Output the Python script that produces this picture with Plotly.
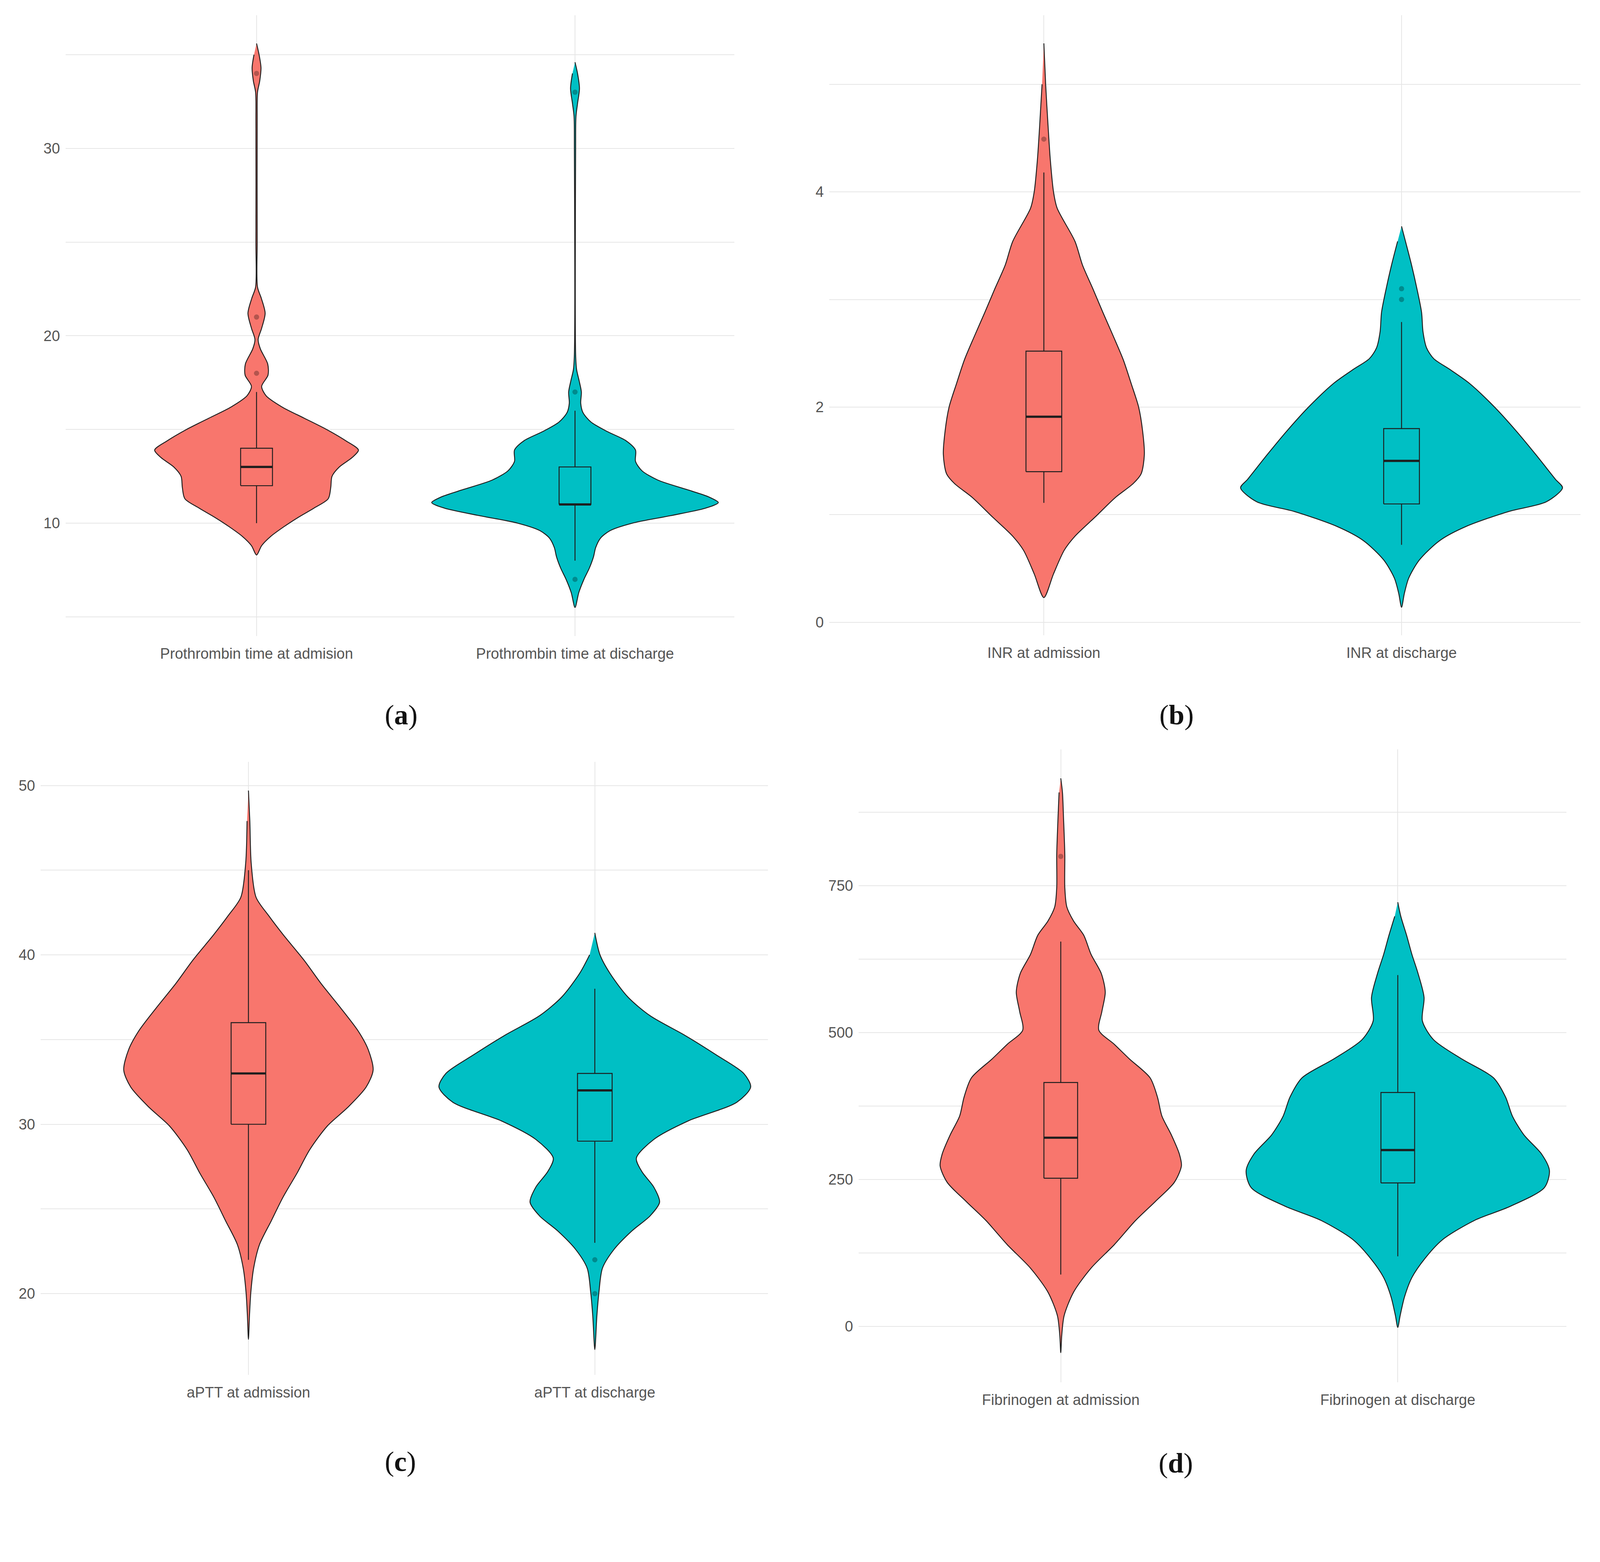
import plotly.graph_objects as go
from plotly.subplots import make_subplots

# ---- data ----------------------------------------------------------------
# violin outlines: value levels and half-widths (category units, widest = 0.45)
PT_ADM_Y = [35.6, 35.0, 34.3, 33.6, 33.0, 31.5, 25.0, 22.6, 22.0, 21.2, 20.4, 19.8, 19.3, 18.5, 17.9,
            17.3, 16.8, 16.2, 15.6, 15.0, 14.4, 13.9, 13.5, 13.0, 12.5, 11.9, 11.3, 10.8, 10.3, 9.8,
            9.3, 8.8, 8.3]
PT_ADM_W = [0, 0.008, 0.014, 0.01, 0.003, 0.002, 0.002, 0.003, 0.015, 0.027, 0.016, 0.005, 0.012,
            0.035, 0.036, 0.016, 0.03, 0.08, 0.15, 0.22, 0.28, 0.32, 0.30, 0.26, 0.237, 0.233, 0.225,
            0.18, 0.13, 0.085, 0.045, 0.016, 0]
PT_DIS_Y = [34.6, 34.0, 33.2, 32.4, 31.7, 30.0, 19.0, 18.2, 17.6, 17.0, 16.4, 15.9, 15.4, 14.9, 14.4,
            13.9, 13.3, 12.8, 12.3, 11.8, 11.4, 11.1, 10.8, 10.4, 10.0, 9.6, 9.2, 8.7, 8.2, 7.6, 7.0,
            6.3, 5.5]
PT_DIS_W = [0, 0.008, 0.014, 0.008, 0.003, 0.002, 0.002, 0.005, 0.013, 0.02, 0.018, 0.025, 0.05, 0.1,
            0.16, 0.19, 0.19, 0.21, 0.26, 0.35, 0.42, 0.45, 0.41, 0.3, 0.18, 0.11, 0.08, 0.065, 0.058,
            0.045, 0.028, 0.012, 0]

INR_ADM_Y = [5.38, 5.0, 4.6, 4.3, 4.0, 3.85, 3.54, 3.32, 3.1, 2.88, 2.66, 2.44, 2.22, 2.0, 1.78, 1.56,
             1.38, 1.29, 1.16, 0.98, 0.8, 0.67, 0.45, 0.23]
INR_ADM_W = [0, 0.005, 0.012, 0.018, 0.027, 0.037, 0.087, 0.108, 0.137, 0.165, 0.194, 0.222, 0.244,
             0.265, 0.276, 0.281, 0.272, 0.25, 0.2, 0.144, 0.087, 0.057, 0.027, 0]
INR_DIS_Y = [3.68, 3.54, 3.32, 3.1, 2.88, 2.7, 2.55, 2.45, 2.35, 2.22, 2.0, 1.78, 1.56, 1.33, 1.25,
             1.12, 1.03, 0.89, 0.76, 0.58, 0.41, 0.27, 0.14]
INR_DIS_W = [0, 0.011, 0.028, 0.043, 0.056, 0.06, 0.07, 0.09, 0.135, 0.19, 0.26, 0.32, 0.375, 0.43,
             0.45, 0.405, 0.3, 0.18, 0.107, 0.05, 0.02, 0.008, 0]

APTT_ADM_Y = [49.7, 47.9, 45.4, 43.4, 42.3, 41.2, 39.7, 38.3, 36.9, 35.5, 34.4, 33.2, 32.2, 31.0, 29.9,
              28.5, 27.1, 25.7, 24.3, 22.9, 21.5, 20.1, 18.7, 17.3]
APTT_ADM_W = [0, 0.004, 0.008, 0.022, 0.059, 0.10, 0.16, 0.21, 0.265, 0.317, 0.346, 0.36, 0.34, 0.287,
              0.228, 0.177, 0.14, 0.10, 0.066, 0.032, 0.015, 0.007, 0.003, 0]
APTT_DIS_Y = [41.3, 40.0, 38.9, 37.5, 36.4, 35.25, 34.1, 33.0, 32.2, 31.3, 30.2, 29.1, 28.0, 27.2,
              26.3, 25.4, 24.6, 23.7, 22.6, 21.5, 20.1, 18.7, 16.7]
APTT_DIS_W = [0, 0.015, 0.044, 0.096, 0.16, 0.26, 0.35, 0.43, 0.45, 0.41, 0.27, 0.17, 0.12, 0.136,
              0.17, 0.187, 0.16, 0.107, 0.055, 0.022, 0.012, 0.006, 0]

FIB_ADM_Y = [933, 909, 868, 803, 747, 714, 690, 666, 633, 601, 569, 536, 504, 480, 455, 423, 390, 358,
             326, 293, 273, 245, 212, 180, 139, 99, 58, 18, -15, -45]
FIB_ADM_W = [0, 0.005, 0.008, 0.012, 0.012, 0.018, 0.038, 0.068, 0.09, 0.12, 0.132, 0.122, 0.113, 0.159,
             0.204, 0.265, 0.287, 0.30, 0.328, 0.352, 0.358, 0.337, 0.28, 0.222, 0.159, 0.09, 0.038,
             0.01, 0.003, 0]
FIB_DIS_Y = [722, 698, 666, 633, 601, 560, 520, 488, 455, 423, 390, 358, 326, 293, 265, 236, 204, 180,
             147, 115, 83, 50, 18, -2]
FIB_DIS_W = [0, 0.009, 0.026, 0.042, 0.06, 0.078, 0.073, 0.106, 0.19, 0.284, 0.32, 0.34, 0.374, 0.427,
             0.45, 0.435, 0.333, 0.227, 0.132, 0.08, 0.042, 0.02, 0.007, 0]

# box summaries: [lower whisker, q1, median, q3, upper whisker]
PT_ADM_BOX = [10, 12, 13, 14, 17]
PT_DIS_BOX = [8, 11, 11, 13, 16]
INR_ADM_BOX = [1.11, 1.40, 1.91, 2.52, 4.18]
INR_DIS_BOX = [0.72, 1.10, 1.50, 1.80, 2.79]
APTT_ADM_BOX = [22, 30, 33, 36, 45]
APTT_DIS_BOX = [23, 29, 32, 33, 38]
FIB_ADM_BOX = [88, 252, 321, 415, 655]
FIB_DIS_BOX = [119, 244, 300, 398, 598]

PT_ADM_OUT = [18, 21, 34]
PT_DIS_OUT = [7, 17, 33]
INR_ADM_OUT = [4.49]
INR_DIS_OUT = [3.0, 3.1]
APTT_ADM_OUT = []
APTT_DIS_OUT = [20, 22]
FIB_ADM_OUT = [800]
FIB_DIS_OUT = []

PT_LABELS = ["Prothrombin time at admision", "Prothrombin time at discharge"]
INR_LABELS = ["INR at admission", "INR at discharge"]
APTT_LABELS = ["aPTT at admission", "aPTT at discharge"]
FIB_LABELS = ["Fibrinogen at admission", "Fibrinogen at discharge"]

PANEL_LETTERS = ["a", "b", "c", "d"]

COLORS = ["#F8766D", "#00BFC4"]

# positions below are in reference pixels (4286 wide); the page renders a bit
# larger than the photographed window, so everything is drawn at scale S.
# The canvas gets a little spare room at the bottom for the panel letters.
REF_W, REF_H = 4286, 4060
S = 0.95
W, H = round(REF_W * S), round(REF_H * S)
GRID = "#E6E6E6"
EDGE = "#1E1E1E"
TICK_FONT = dict(family="Liberation Sans, Arial, sans-serif", size=round(40 * S), color="#555555")

panels = [
    dict(groups=[(PT_ADM_Y, PT_ADM_W, PT_ADM_BOX, PT_ADM_OUT), (PT_DIS_Y, PT_DIS_W, PT_DIS_BOX, PT_DIS_OUT)],
         labels=PT_LABELS, yrange=[3.98, 37.1], dtick=10, px=(168, 1970, 33, 1705)),
    dict(groups=[(INR_ADM_Y, INR_ADM_W, INR_ADM_BOX, INR_ADM_OUT), (INR_DIS_Y, INR_DIS_W, INR_DIS_BOX, INR_DIS_OUT)],
         labels=INR_LABELS, yrange=[-0.12, 5.64], dtick=2, px=(2226, 4250, 33, 1703)),
    dict(groups=[(APTT_ADM_Y, APTT_ADM_W, APTT_ADM_BOX, APTT_ADM_OUT), (APTT_DIS_Y, APTT_DIS_W, APTT_DIS_BOX, APTT_DIS_OUT)],
         labels=APTT_LABELS, yrange=[15.2, 51.4], dtick=10, px=(101, 2061, 2044, 3696)),
    dict(groups=[(FIB_ADM_Y, FIB_ADM_W, FIB_ADM_BOX, FIB_ADM_OUT), (FIB_DIS_Y, FIB_DIS_W, FIB_DIS_BOX, FIB_DIS_OUT)],
         labels=FIB_LABELS, yrange=[-95.6, 982], dtick=250, px=(2305, 4212, 2011, 3716)),
]
LETTER_POS = [(1026, 1918), (3210, 1918), (1026, 3974), (3208, 3978)]
BOX_W = 0.1

fig = make_subplots(rows=2, cols=2)

for i, p in enumerate(panels):
    row, col = i // 2 + 1, i % 2 + 1
    for g, (ys, ws, box, out) in enumerate(p["groups"]):
        c = g + 1
        color = COLORS[g]
        lo, q1, med, q3, hi = box
        # violin outline: right side top->bottom, left side back up
        xs = [c + w for w in ws] + [c - w for w in ws[::-1][1:-1]]
        yv = list(ys) + list(ys[::-1][1:-1])
        fig.add_trace(go.Scatter(
            x=xs, y=yv, mode="lines", fill="toself", fillcolor=color,
            line=dict(color=EDGE, width=2.5 * S, shape="spline", smoothing=0.8),
            hoverinfo="skip", showlegend=False,
        ), row=row, col=col)
        # box plot drawn with scatter so it sits above the violin fill
        fig.add_trace(go.Scatter(
            x=[c, c, None, c, c], y=[lo, q1, None, q3, hi], mode="lines",
            line=dict(color=EDGE, width=2.5 * S), hoverinfo="skip", showlegend=False,
        ), row=row, col=col)
        fig.add_trace(go.Scatter(
            x=[c - BOX_W / 2, c + BOX_W / 2, c + BOX_W / 2, c - BOX_W / 2, c - BOX_W / 2],
            y=[q1, q1, q3, q3, q1], mode="lines", fill="toself", fillcolor=color,
            line=dict(color=EDGE, width=2.5 * S), hoverinfo="skip", showlegend=False,
        ), row=row, col=col)
        fig.add_trace(go.Scatter(
            x=[c - BOX_W / 2, c + BOX_W / 2], y=[med, med], mode="lines",
            line=dict(color=EDGE, width=6 * S), hoverinfo="skip", showlegend=False,
        ), row=row, col=col)
        if out:
            fig.add_trace(go.Scatter(
                x=[c] * len(out), y=out, mode="markers",
                marker=dict(size=14 * S, color="rgba(0,0,0,0.28)"),
                hoverinfo="skip", showlegend=False,
            ), row=row, col=col)

    x0, x1, y0, y1 = p["px"]
    fig.update_xaxes(
        domain=[x0 / REF_W, x1 / REF_W], range=[0.4, 2.5], tickmode="array", tickvals=[1, 2],
        ticktext=p["labels"], showgrid=True, gridcolor=GRID, gridwidth=2.5 * S,
        zeroline=False, showline=False, ticks="", tickfont=TICK_FONT, ticklabelstandoff=round(20 * S),
        row=row, col=col,
    )
    fig.update_yaxes(
        domain=[1 - y1 / REF_H, 1 - y0 / REF_H], range=p["yrange"], tickmode="linear", tick0=0,
        dtick=p["dtick"], showgrid=True, gridcolor=GRID, gridwidth=2.5 * S, zeroline=False,
        showline=False, ticks="", tickfont=TICK_FONT, ticklabelstandoff=round(14 * S),
        minor=dict(dtick=p["dtick"] / 2, tick0=0, showgrid=True, gridcolor=GRID, gridwidth=2.5 * S),
        row=row, col=col,
    )

for letter, (lx, ly) in zip(PANEL_LETTERS, LETTER_POS):
    fig.add_annotation(
        x=lx / REF_W, y=1 - ly / REF_H, xref="paper", yref="paper", showarrow=False,
        text=f"(<b>{letter}</b>)",
        font=dict(family="Liberation Serif, Times New Roman, serif", size=round(76 * S), color="#111111"),
    )

fig.update_layout(
    width=W, height=H, margin=dict(l=0, r=0, t=0, b=0),
    paper_bgcolor="white", plot_bgcolor="white", showlegend=False,
)

fig.write_html("out.html")
